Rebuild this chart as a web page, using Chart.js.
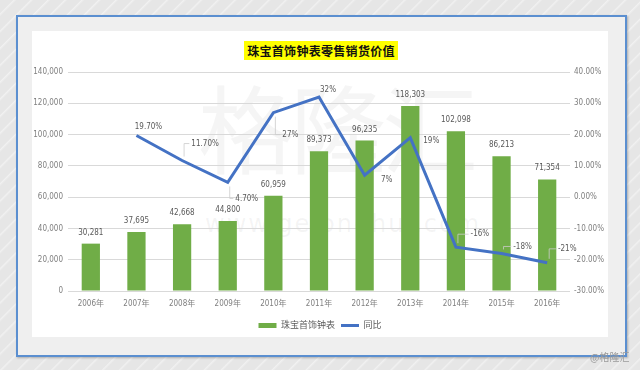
<!DOCTYPE html>
<html>
<head>
<meta charset="utf-8">
<script src="https://cdn.jsdelivr.net/npm/chart.js@4"></script>
<style>
  html, body { margin: 0; padding: 0; }
  body {
    width: 640px; height: 370px; position: relative; overflow: hidden;
    background: repeating-linear-gradient(135deg, #e6e6e6 0px, #e6e6e6 9px, #f1f1f1 10px, #e6e6e6 12px);
  }
  .frame {
    position: absolute; left: 16px; top: 15px; width: 611px; height: 342px;
    box-sizing: border-box; border: 2px solid #5b8fd0;
    background: #efefef; box-shadow: 1px 1px 2px rgba(0,0,0,0.25);
  }
  .panel { position: absolute; left: 32px; top: 31px; width: 576px; height: 306px; background: #fff; }
  .wm { position: absolute; color: rgba(140,140,140,0.09); font-family: 'Noto Sans CJK SC', sans-serif; white-space: nowrap; }
  .title {
    position: absolute; left: 0; top: 37px; width: 640px; text-align: center;
    font-family: 'Noto Sans CJK SC', sans-serif;
  }
  .title span {
    display: inline-block; background: #ffff00; color: #111;
    font-size: 12px; font-weight: bold; line-height: 19px; height: 19px;
    letter-spacing: 0.3px; padding: 0 3px 0 3px; margin-left: 2px;
  }
  #chart { position: absolute; left: 32px; top: 31px; }
  .credit {
    position: absolute; left: 590px; top: 349px; font-size: 10px; color: #9a9a9a;
    font-family: 'Noto Sans CJK SC', sans-serif;
  }
</style>
</head>
<body>
<div class="frame"></div>
<div class="panel"></div>
<div class="wm" style="left:198px; top:55px; font-size:96px; letter-spacing:-4px;">格隆汇</div>
<div class="wm" style="left:205px; top:210px; font-size:24px; letter-spacing:2px; font-family:'DejaVu Sans',sans-serif;">www.gelonghui.com</div>
<div class="title"><span>珠宝首饰钟表零售销货价值</span></div>
<canvas id="chart" width="576" height="320"></canvas>
<div class="credit">@格隆汇</div>

<script>
const years = ['2006年', '2007年', '2008年', '2009年', '2010年', '2011年',
               '2012年', '2013年', '2014年', '2015年', '2016年'];
const salesValues = [30281, 37695, 42668, 44800, 60959, 89373, 96235, 118303, 102098, 86213, 71354];
const growthValues = [null, 19.7, 11.7, 4.7, 27, 32, 7, 19, -16, -18, -21];
const seriesNames = ['珠宝首饰钟表', '同比'];

// where each growth label sits relative to its point: [dx, dy, leader line?]
const growthLabelOffsets = [null, [12, -9, 0], [23, -17, 1], [19, 16, 1], [17, 22, 1], [9, -7, 0],
                            [22, 5, 0], [21, 3, 0], [24, -13, 1], [21, -7, 1], [20, -14, 1]];

const textFont = "'Liberation Sans Narrow', 'DejaVu Sans Condensed', 'Noto Sans CJK SC', sans-serif";

function fmtGrowth(v) {
  return Number.isInteger(v) ? v + '%' : v.toFixed(2) + '%';
}

// value labels on bars and line points
const valueLabels = {
  id: 'valueLabels',
  afterDatasetsDraw(chart) {
    const ctx = chart.ctx;
    ctx.save();
    ctx.font = '8px ' + textFont;
    ctx.fillStyle = '#595959';
    ctx.textAlign = 'center';
    ctx.textBaseline = 'middle';

    chart.getDatasetMeta(0).data.forEach((bar, i) => {
      ctx.fillText(salesValues[i].toLocaleString('en-US'), bar.x, bar.y - 11);
    });

    chart.getDatasetMeta(1).data.forEach((pt, i) => {
      const v = growthValues[i];
      if (v === null) return;
      const off = growthLabelOffsets[i];
      const tx = pt.x + off[0];
      const ty = pt.y + off[1];
      const text = fmtGrowth(v);
      if (off[2]) {
        const left = tx - ctx.measureText(text).width / 2 - 2;
        const dir = off[1] > 0 ? 1 : -1;
        ctx.strokeStyle = '#cccccc';
        ctx.lineWidth = 0.8;
        ctx.beginPath();
        ctx.moveTo(pt.x + 2, pt.y + dir * 4);
        ctx.lineTo(pt.x + 2, ty);
        ctx.lineTo(left, ty);
        ctx.stroke();
      }
      ctx.fillText(text, tx, ty);
    });
    ctx.restore();
  }
};

new Chart(document.getElementById('chart'), {
  type: 'bar',
  data: {
    labels: years,
    datasets: [
      {
        type: 'bar',
        label: seriesNames[0],
        data: salesValues,
        yAxisID: 'y',
        backgroundColor: '#70ad47',
        borderWidth: 0,
        barPercentage: 0.4,
        categoryPercentage: 1,
        pointStyle: 'rect',
        order: 1
      },
      {
        type: 'line',
        label: seriesNames[1],
        data: growthValues,
        yAxisID: 'y1',
        borderColor: '#4472c4',
        backgroundColor: '#4472c4',
        borderWidth: 3,
        pointRadius: 0,
        pointStyle: 'line',
        tension: 0,
        order: 0
      }
    ]
  },
  options: {
    responsive: false,
    animation: false,
    layout: { padding: { top: 41, left: 0, right: 0, bottom: 11 } },
    plugins: {
      tooltip: { enabled: false },
      title: { display: false },
      legend: {
        position: 'bottom',
        labels: {
          usePointStyle: true,
          pointStyleWidth: 18,
          boxHeight: 5,
          padding: 6,
          color: '#595959',
          font: { size: 9, family: textFont },
          sort: (a, b) => a.datasetIndex - b.datasetIndex
        }
      }
    },
    scales: {
      x: {
        grid: { display: false, drawTicks: false },
        border: { display: false },
        ticks: { color: '#7f7f7f', font: { size: 8, family: textFont }, padding: 8, maxRotation: 0 },
        afterFit(scale) { scale.height = 24; }
      },
      y: {
        position: 'left',
        min: 0,
        max: 140000,
        grid: { color: '#d9d9d9', drawTicks: false },
        border: { display: false },
        ticks: {
          stepSize: 20000,
          color: '#7f7f7f',
          font: { size: 8, family: textFont },
          padding: 5,
          callback: v => v.toLocaleString('en-US')
        },
        afterFit(scale) { scale.width = 36; }
      },
      y1: {
        position: 'right',
        min: -30,
        max: 40,
        grid: { drawOnChartArea: false, drawTicks: false },
        border: { display: false },
        ticks: {
          stepSize: 10,
          color: '#7f7f7f',
          font: { size: 8, family: textFont },
          padding: 4,
          callback: v => v.toFixed(2) + '%'
        },
        afterFit(scale) { scale.width = 38; }
      }
    }
  },
  plugins: [valueLabels]
});
</script>
</body>
</html>
